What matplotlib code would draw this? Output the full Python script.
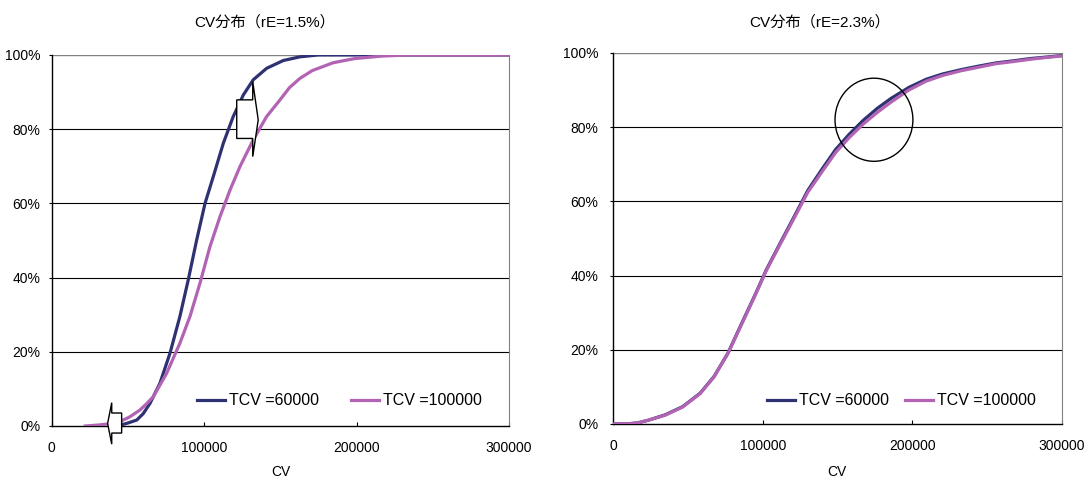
import matplotlib
matplotlib.use("Agg")
import matplotlib.pyplot as plt
from matplotlib.patches import Polygon, Ellipse

plt.rcParams['font.family'] = ['Liberation Sans', 'Noto Sans CJK JP', 'DejaVu Sans']

# --- data ------------------------------------------------------------------
titles = ["CV分布（rE=1.5%）", "CV分布（rE=2.3%）"]
labels = ["TCV =60000", "TCV =100000"]
xticks = [0, 100000, 200000, 300000]
yticks = [0, 20, 40, 60, 80, 100]

# rE = 1.5%
a_x60 = [42000, 44800, 50000, 55800, 60000, 64500, 71000, 77600, 84100, 89600,
         95100, 100600, 106000, 112600, 119100, 125700, 132200, 141000, 151900,
         162900, 175000, 300000]
a_y60 = [0.0, 0.2, 0.8, 1.6, 3.3, 6.1, 11.5, 19.6, 29.5, 39.4,
         50.1, 60.0, 67.2, 76.2, 83.4, 89.2, 93.3, 96.4, 98.5,
         99.5, 100.0, 100.0]
a_x100 = [22000, 31700, 38000, 44800, 51000, 57900, 62000, 66700, 75400, 84100,
          90700, 97300, 103800, 110400, 117000, 123500, 132200, 141000, 149800,
          156000, 162900, 171000, 184600, 198300, 216500, 235000, 300000]
a_y100 = [0.0, 0.3, 0.6, 1.2, 2.4, 4.3, 5.9, 7.9, 14.2, 22.3,
          29.5, 38.5, 48.3, 56.4, 63.6, 69.9, 77.1, 83.4, 87.9,
          91.2, 93.7, 95.8, 97.9, 99.0, 99.7, 100.0, 100.0]

# rE = 2.3%
b_x60 = [0, 10000, 16300, 23300, 34900, 46500, 58100, 67400, 76700, 86000, 95300,
         102300, 111600, 120900, 130200, 139500, 148800, 158100, 167400, 176700,
         186000, 197700, 209300, 220000, 232600, 245000, 255800, 268000, 279100,
         290000, 300000]
b_y60 = [0.0, 0.05, 0.3, 1.0, 2.5, 4.7, 8.3, 12.8, 19.1, 27.2, 35.2,
         41.5, 48.7, 55.8, 63.0, 68.6, 74.0, 78.2, 81.9, 85.1,
         87.8, 90.7, 92.9, 94.3, 95.5, 96.5, 97.3, 97.9, 98.5,
         98.9, 99.3]
b_x100 = b_x60
b_y100 = [0.0, 0.05, 0.3, 1.0, 2.4, 4.6, 8.2, 12.7, 19.0, 27.0, 35.0,
          41.3, 48.4, 55.4, 62.5, 67.9, 73.2, 77.3, 80.9, 84.0,
          86.8, 90.0, 92.4, 93.9, 95.2, 96.2, 97.1, 97.7, 98.3,
          98.8, 99.2]

DARK = "#2F3272"
PINK = "#B263B4"

fig = plt.figure(figsize=(10.88, 4.78), dpi=100)
ax1 = fig.add_axes([0.0475, 0.1088, 0.4203, 0.7762])
ax2 = fig.add_axes([0.5637, 0.1130, 0.4121, 0.7762])


def style(ax, title, title_x, ypad, lg_x, colsp):
    ax.set_xlim(0, 300000)
    ax.set_ylim(0, 100)
    for y in yticks[1:-1]:
        ax.axhline(y, color="black", lw=0.8, zorder=1)
    ax.axhline(100, color="#808080", lw=1.0, zorder=1)
    ax.set_xticks(xticks)
    ax.set_xticklabels([str(t) for t in xticks])
    ax.set_yticks(yticks)
    ax.set_yticklabels([f"{t}%" for t in yticks])
    ax.tick_params(axis="x", direction="in", length=3, width=0.8, pad=11, labelsize=10)
    ax.tick_params(axis="y", direction="out", length=2.5, width=0.8, pad=ypad, labelsize=10)
    for s in ("left", "bottom"):
        ax.spines[s].set_color("black")
        ax.spines[s].set_linewidth(1.0)
    ax.spines["right"].set_color("#808080")
    ax.spines["top"].set_visible(False)
    fig.text(title_x, 0.9526, title, ha="center", va="center", fontsize=11)
    ax.legend(labels, loc="center left", bbox_to_anchor=(lg_x, 0.1611),
              bbox_transform=fig.transFigure, ncol=2, frameon=False,
              fontsize=11.5, handlelength=1.75, handletextpad=0.25,
              columnspacing=colsp, borderpad=0, borderaxespad=0)


ax1.plot(a_x60, a_y60, color=DARK, lw=2.3, zorder=3)
ax1.plot(a_x100, a_y100, color=PINK, lw=2.3, zorder=3)
style(ax1, titles[0], 0.2437, 5.5, 0.1809, 2.0)
fig.text(0.258, 0.0125, "CV", ha="center", va="center", fontsize=10)

ax2.plot(b_x60, b_y60, color=DARK, lw=2.3, zorder=3)
ax2.plot(b_x100, b_y100, color=PINK, lw=2.3, zorder=3)
style(ax2, titles[1], 0.7532, 8.3, 0.7054, 0.95)
fig.text(0.769, 0.0125, "CV", ha="center", va="center", fontsize=10)

# block arrows (left chart)
big = [(121400, 87.9), (131900, 87.9), (131900, 92.8), (135500, 82.5),
       (131900, 72.6), (131900, 77.5), (121400, 77.5)]
small = [(45900, 3.5), (39400, 3.5), (39400, 6.3), (36700, 0.7),
         (39400, -4.9), (39400, -1.9), (45900, -1.9)]
for pts in (big, small):
    ax1.add_patch(Polygon(pts, closed=True, facecolor="white", edgecolor="black",
                          lw=1.0, zorder=5, clip_on=False))

# circle (right chart)
ax2.add_patch(Ellipse((174400, 82.0), 52100, 22.4, facecolor="none",
                      edgecolor="black", lw=1.0, zorder=5))

fig.savefig("out.png", dpi=100)
